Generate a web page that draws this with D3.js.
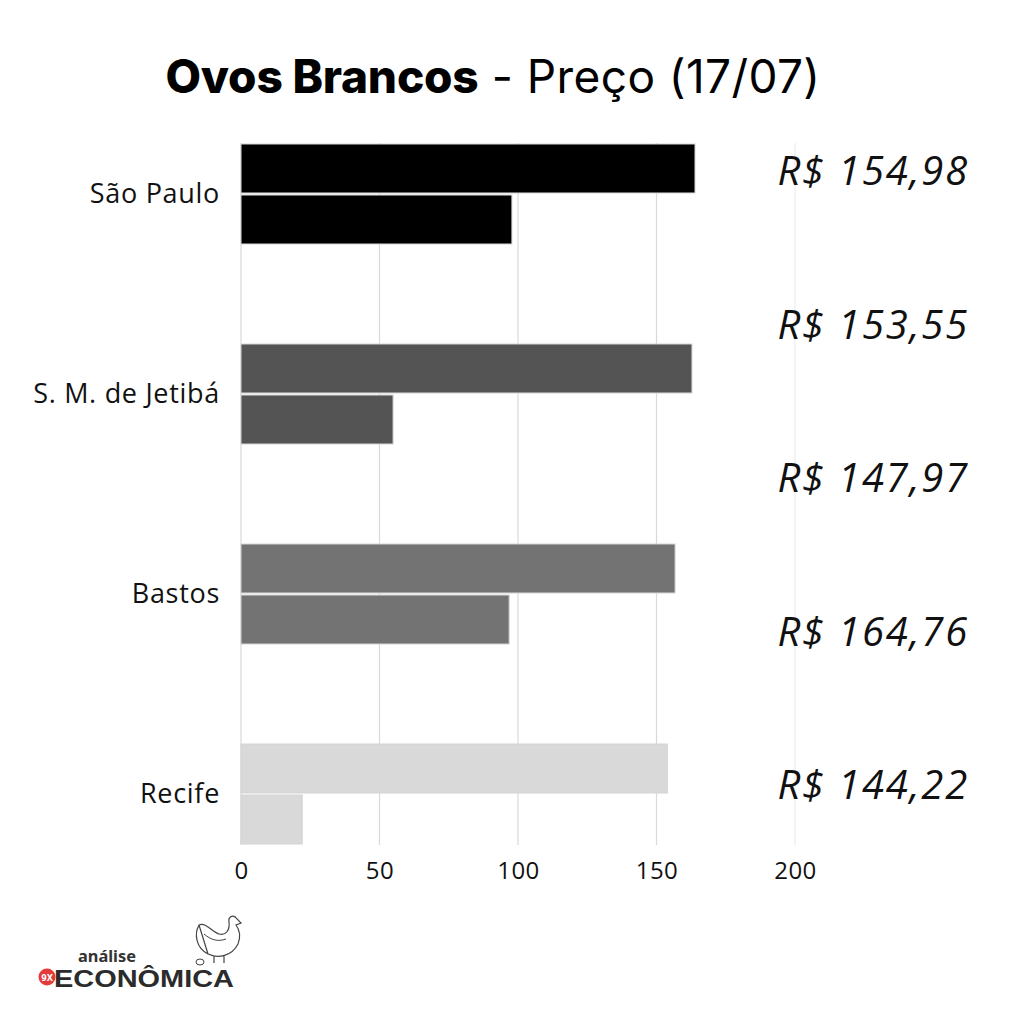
<!DOCTYPE html>
<html><head><meta charset="utf-8">
<script src="https://cdn.jsdelivr.net/npm/d3@7"></script>
<style>html,body{margin:0;padding:0;background:#fff}</style>
</head><body>
<svg id="c" width="1024" height="1024"></svg>
<script>
const categories = ["São Paulo", "S. M. de Jetibá", "Bastos", "Recife"];
const seriesTop = [163.9, 162.8, 156.7, 153.9];
const seriesBottom = [97.8, 54.9, 96.8, 22.1];
const colors = ["#000000", "#545454", "#737373", "#d9d9d9"];
const xTicks = [0, 50, 100, 150, 200];
const priceLabels = ["R$ 154,98", "R$ 153,55", "R$ 147,97", "R$ 164,76", "R$ 144,22"];

const svg = d3.select("#c");
svg.append("rect").attr("width",1024).attr("height",1024).attr("fill","#fff");

const x = d3.scaleLinear().domain([0,200]).range([241,795]);
const y = d3.scaleBand().domain(categories).range([94,894]);
const inner = d3.scaleBand().domain(["top","bottom"]).range([50,150]).paddingInner(0.04);

// gridlines
svg.append("g").selectAll("line").data(xTicks).join("line")
  .attr("x1",d=>x(d)).attr("x2",d=>x(d)).attr("y1",143).attr("y2",845)
  .attr("stroke",(d,i)=> i===xTicks.length-1 ? "#ececec" : "#d9d9d9").attr("stroke-width",1.2);

// bars
const rows = categories.map((c,i)=>({c, i, top:seriesTop[i], bottom:seriesBottom[i]}));
const g = svg.append("g");
rows.forEach(r=>{
  [["top",r.top],["bottom",r.bottom]].forEach(([k,v])=>{
    g.append("rect")
      .attr("x",x(0)).attr("y",y(r.c)+inner(k))
      .attr("width",x(v)-x(0)).attr("height",inner.bandwidth())
      .attr("fill",colors[r.i]).attr("stroke","#d4d4d4").attr("stroke-width",1);
  });
});

// category labels
svg.append("g").selectAll("text").data(categories).join("text")
  .attr("x",220).attr("y",d=>y(d)+y.bandwidth()/2+2)
  .attr("text-anchor","end").attr("dominant-baseline","middle")
  .attr("font-family","'Open Sans', sans-serif").attr("font-size",27).attr("letter-spacing",0.7).attr("fill","#111")
  .text(d=>d);

// x axis
const xAxis = d3.axisBottom(x).tickValues(xTicks).tickSize(0).tickPadding(14);
const ax = svg.append("g").attr("transform","translate(0,848)").call(xAxis);
ax.select(".domain").remove();
ax.selectAll("text").attr("font-family","'Open Sans', sans-serif").attr("font-size",24).attr("letter-spacing",0.5).attr("fill","#111");

// price labels
const py = d3.scalePoint().domain(d3.range(priceLabels.length)).range([185,799]);
svg.append("g").selectAll("text").data(priceLabels).join("text")
  .attr("x",969).attr("y",(d,i)=>py(i))
  .attr("text-anchor","end")
  .attr("font-family","'Open Sans', sans-serif").attr("font-style","italic").attr("font-size",40).attr("letter-spacing",1.8).attr("fill","#111")
  .text(d=>d);

// title
const t = svg.append("text").attr("x",493).attr("y",93).attr("text-anchor","middle")
  .attr("font-family","Inter, sans-serif").attr("font-size",46).attr("fill","#000");
t.append("tspan").attr("font-weight",800).attr("letter-spacing",-0.2).text("Ovos Brancos");
t.append("tspan").attr("font-weight",400).attr("letter-spacing",0.4).text(" - Preço (17/07)");

// logo
const logo = svg.append("g");
logo.append("circle").attr("cx",47).attr("cy",977).attr("r",8.5).attr("fill","#e53a3a");
logo.append("text").attr("x",47).attr("y",980.5).attr("text-anchor","middle")
  .attr("font-family","'DejaVu Sans', sans-serif").attr("font-weight",700).attr("font-size",8).attr("fill","#fff").text("9X");
logo.append("text").attr("x",78).attr("y",962)
  .attr("font-family","'Noto Sans', sans-serif").attr("font-weight",700).attr("font-size",16).attr("fill","#333")
  .attr("textLength",58).attr("lengthAdjust","spacingAndGlyphs").text("análise");
logo.append("text").attr("x",54).attr("y",987)
  .attr("font-family","'Liberation Sans', sans-serif").attr("font-weight",700)
  .attr("font-size",24).attr("fill","#2b2b2b").attr("textLength",180).attr("lengthAdjust","spacingAndGlyphs").text("ECONÔMICA");
// chicken outline
const ch = logo.append("g").attr("transform","translate(0,-4)");
ch.append("path")
  .attr("d","M199,929 C194,938 196,952 208,958 L214,960 L214,967 M224,960 L224,967 M208,958 C218,963 232,960 238,948 C241,940 239,933 236,929 L241,927 L237,923 C234,918 228,920 229,926 C230,934 226,940 219,938 C212,936 206,926 199,929 Z")
  .attr("fill","#fff").attr("stroke","#444").attr("stroke-width",1.2);
ch.append("path").attr("d","M204,938 C211,944 218,946 226,943").attr("fill","none").attr("stroke","#444").attr("stroke-width",1);
ch.append("ellipse").attr("cx",200).attr("cy",966).attr("rx",4).attr("ry",3).attr("fill","none").attr("stroke","#444").attr("stroke-width",1);
</script>
</body></html>
